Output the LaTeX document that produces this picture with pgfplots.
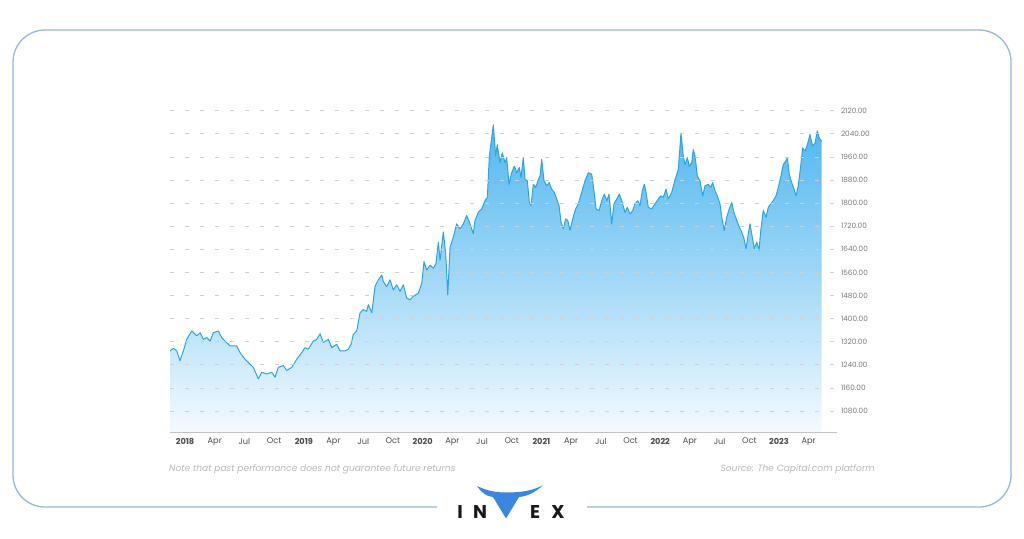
\documentclass[border=0pt]{standalone}
\usepackage{fontspec}
\setmainfont{Poppins}
\usepackage{pgfplots}
\pgfplotsset{compat=1.18}
\usepackage{pgfplotstable}
\definecolor{linec}{RGB}{46,164,230}
\definecolor{filltop}{RGB}{80,182,239}
\definecolor{fillbot}{RGB}{244,250,255}
\definecolor{framec}{RGB}{150,182,228}
\definecolor{gridc}{RGB}{208,208,208}
\definecolor{vblue}{RGB}{58,134,224}
\definecolor{notec}{RGB}{185,185,185}
\pgfplotstableread{
m v
-1.52 1288
-1.18 1297
-0.84 1288
-0.51 1254
-0.17 1288
0.17 1328
0.68 1357
1.18 1340
1.52 1351
1.85 1328
2.19 1334
2.53 1322
2.86 1351
3.36 1357
3.71 1334
4.04 1322
4.55 1305
5.22 1305
5.56 1282
6.06 1259
6.57 1242
6.90 1231
7.40 1191
7.75 1214
8.25 1208
8.76 1214
9.09 1197
9.42 1231
9.93 1237
10.27 1220
10.78 1231
11.28 1259
11.79 1282
12.12 1299
12.45 1294
12.96 1322
13.30 1328
13.64 1347
13.97 1317
14.47 1328
14.82 1299
15.32 1311
15.66 1288
16.16 1288
16.49 1294
16.77 1311
17.00 1345
17.34 1357
17.68 1420
18.01 1431
18.35 1425
18.52 1448
18.86 1420
19.19 1511
19.53 1534
19.87 1551
20.03 1528
20.37 1511
20.71 1534
21.04 1499
21.38 1517
21.72 1494
22.05 1517
22.39 1471
22.73 1465
23.06 1477
23.57 1488
23.91 1522
24.14 1597
24.41 1568
24.75 1585
25.08 1574
25.35 1591
25.59 1665
25.76 1602
26.09 1700
26.33 1625
26.54 1482
26.77 1648
27.10 1682
27.44 1728
27.78 1711
28.11 1728
28.45 1757
28.79 1728
29.12 1694
29.29 1740
29.63 1768
29.97 1780
30.30 1808
30.54 1820
30.74 1963
31.14 2071
31.38 1963
31.54 2002
31.82 1940
32.05 1974
32.32 1940
32.49 1957
32.73 1865
33.00 1905
33.26 1928
33.51 1905
33.77 1923
33.94 1888
34.17 1957
34.34 1882
34.58 1877
34.78 1802
34.95 1791
35.18 1865
35.42 1854
35.69 1882
35.86 1894
36.03 1951
36.26 1877
36.54 1860
36.80 1871
37.04 1848
37.30 1837
37.55 1814
37.78 1791
37.98 1734
38.21 1711
38.45 1745
38.66 1740
38.89 1705
39.16 1745
39.46 1780
39.73 1797
40.07 1837
40.40 1877
40.74 1905
41.08 1900
41.31 1842
41.52 1780
41.82 1774
42.09 1808
42.35 1831
42.60 1808
42.83 1831
43.10 1728
43.33 1797
43.61 1814
43.87 1831
44.11 1808
44.44 1768
44.68 1785
44.95 1762
45.22 1774
45.45 1797
45.73 1808
45.96 1791
46.19 1842
46.39 1865
46.57 1837
46.80 1785
47.14 1780
47.47 1797
47.81 1814
48.08 1825
48.31 1820
48.59 1848
48.82 1814
49.16 1837
49.49 1880
49.83 1917
50.10 2043
50.33 1963
50.51 1934
50.74 1957
50.94 1928
51.18 1940
51.34 1985
51.52 1963
51.75 1894
52.02 1877
52.29 1825
52.53 1860
52.86 1865
53.10 1854
53.30 1871
53.54 1842
53.77 1825
54.04 1797
54.27 1740
54.47 1705
54.72 1751
54.98 1780
55.22 1802
55.45 1768
55.73 1740
55.99 1717
56.23 1700
56.46 1677
56.67 1642
56.90 1694
57.07 1728
57.30 1682
57.51 1642
57.75 1665
57.98 1637
58.18 1711
58.41 1774
58.69 1751
58.92 1785
59.16 1797
59.42 1808
59.70 1825
59.93 1854
60.20 1894
60.44 1934
60.68 1945
60.84 1957
61.04 1900
61.28 1871
61.52 1848
61.72 1825
61.95 1860
62.19 1928
62.39 1991
62.63 1980
62.86 2002
63.13 2037
63.40 1997
63.64 2008
63.87 2050
64.07 2025
64.31 2014
}\gold
\begin{document}
\begin{tikzpicture}[x=1pt,y=1pt]
\path[use as bounding box] (0,0) rectangle (1024,538);
% frame
\draw[framec, line width=1.3pt, rounded corners=32pt]
  (437,31) -- (13,31) -- (13,508) -- (1011,508) -- (1011,31) -- (587,31);
\begin{axis}[
  at={(170pt,105.4pt)}, anchor=south west,
  scale only axis, width=667pt, height=330.6pt,
  xmin=-1.52, xmax=65.86, ymin=1005, ymax=2150,
  axis x line=bottom, axis y line=right,
  x axis line style={draw={rgb,255:red,195;green,195;blue,195}, line width=0.8pt, -},
  y axis line style={draw=none},
  major tick length=0pt,
  xtick={0,3,...,63},
  xticklabels={\textbf{2018},Apr,Jul,Oct,\textbf{2019},Apr,Jul,Oct,\textbf{2020},Apr,Jul,Oct,\textbf{2021},Apr,Jul,Oct,\textbf{2022},Apr,Jul,Oct,\textbf{2023},Apr},
  xticklabel style={font=\fontsize{8.2}{9}\selectfont, text={rgb,255:red,75;green,75;blue,75}, yshift=-2pt},
  ytick={1080,1160,...,2120},
  yticklabel style={font=\fontsize{7.3}{8}\selectfont, text={rgb,255:red,120;green,120;blue,120}, xshift=0.5pt,
    /pgf/number format/fixed, /pgf/number format/zerofill, /pgf/number format/precision=2,
    /pgf/number format/1000 sep={}, /pgf/number format/assume math mode=true},
  ymajorgrids, grid style={draw=gridc, line width=0.6pt, dash pattern=on 4pt off 11pt},
  axis on top,
  clip=true,
]
\addplot[draw=none, top color=filltop, bottom color=fillbot] table[x=m,y=v] {\gold}
  -- (axis cs:64.31,1005) -- (axis cs:-1.52,1005) -- cycle;
\addplot[draw=linec, line width=1pt, line join=round, mark=none] table[x=m,y=v] {\gold};
\end{axis}
% footnotes
\node[anchor=west, font=\fontsize{9.1}{10}\selectfont\itshape, text=notec, inner sep=0pt] at (169,69)
  {Note that past performance does not guarantee future returns};
\node[anchor=east, font=\fontsize{9.1}{10}\selectfont\itshape, text=notec, inner sep=0pt] at (875,69)
  {Source: The Capital.com platform};
% logo
\begin{scope}[every node/.style={font=\fontsize{18.5}{19}\selectfont\bfseries, text={rgb,255:red,25;green,25;blue,25}, inner sep=0pt, anchor=base}]
\node at (460,20) {I};
\node at (480,20) {N};
\node at (535,20) {E};
\node at (558,20) {X};
\end{scope}
\fill[vblue] (477,52) .. controls (487,47) and (497,45.5) .. (506,45.5)
  .. controls (520,45.5) and (533,47) .. (543,53)
  .. controls (535,45) and (526,41.5) .. (519,41) -- (506,19.5) -- (493,41)
  .. controls (486,41.5) and (481,46) .. (477,52) -- cycle;
\end{tikzpicture}
\end{document}
